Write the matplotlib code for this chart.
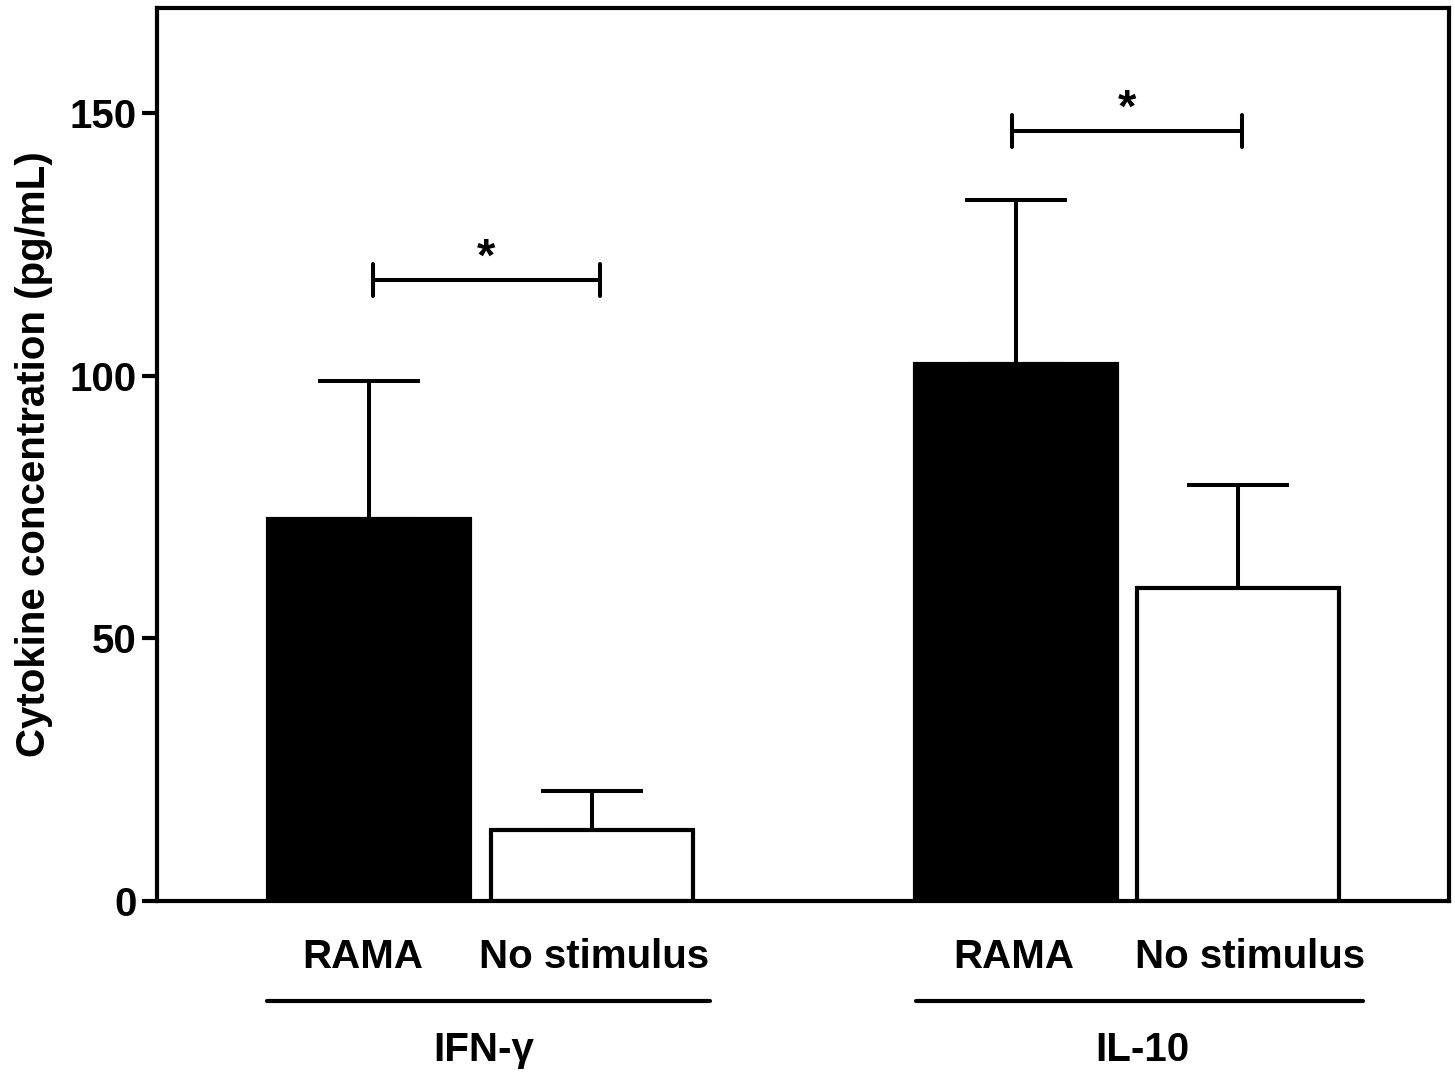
import numpy as np
import matplotlib.pyplot as plt
import matplotlib as mpl

mpl.rcParams['font.family'] = ['Liberation Sans', 'DejaVu Sans']
mpl.rcParams['font.weight'] = 'bold'

# data
groups = ['IFN-γ', 'IL-10']
conditions = ['RAMA', 'No stimulus']
means = [72.7, 13.5, 102.2, 59.6]
err_top = [99.0, 20.9, 133.4, 79.2]
bar_colors = ['black', 'white', 'black', 'white']
sig_levels = [118.2, 146.6]
sig_labels = ['*', '*']
yticks = [0, 50, 100, 150]

# layout (data units, bar width = 1)
pos = np.array([1.04, 2.13, 4.21, 5.30])
sig_x = [(1.06, 2.17), (4.19, 5.32)]
line_x = [(0.54, 2.71), (3.72, 5.91)]
cond_x = [1.01, 2.14, 4.20, 5.36]
group_x = [1.60, 4.83]

fig = plt.figure(figsize=(14.55, 10.78), dpi=100)
ax = fig.add_axes([157/1455, 177/1078, 1292/1455, 893/1078])

ax.bar(pos, means, width=0.99, color=bar_colors, edgecolor='black',
       linewidth=3, zorder=2)
yerr = np.array([np.zeros(4), np.array(err_top) - np.array(means)])
ax.errorbar(pos, means, yerr=yerr, fmt='none', ecolor='black',
            elinewidth=2.9, capsize=37, capthick=2.9, zorder=1)

# significance brackets
for (x0, x1), y, s in zip(sig_x, sig_levels, sig_labels):
    ax.plot([x0, x1], [y, y], color='black', lw=2.9, solid_capstyle='round')
    for xx in (x0, x1):
        ax.plot([xx, xx], [y - 3, y + 3], color='black', lw=2.9,
                solid_capstyle='round')
    ax.text((x0 + x1) / 2, y + 4, s, ha='center', va='center',
            fontsize=34, fontweight='bold')

ax.set_xlim(0, 6.333)
ax.set_ylim(0, 170)
ax.set_yticks(yticks)
ax.set_xticks([])
ax.tick_params(axis='y', length=11, width=3, labelsize=29, pad=3.5)
for lbl in ax.get_yticklabels():
    lbl.set_fontweight('bold')
for sp in ax.spines.values():
    sp.set_linewidth(3)

ax.set_ylabel('Cytokine concentration (pg/mL)', fontsize=29,
              fontweight='bold', labelpad=12)

# category labels below the axis
tr = ax.get_xaxis_transform()
for i, x in enumerate(cond_x):
    ax.text(x, -0.063, conditions[i % 2], transform=tr, ha='center',
            va='center', fontsize=29, fontweight='bold')
for (x0, x1), gx, g in zip(line_x, group_x, groups):
    ax.plot([x0, x1], [-0.112, -0.112], transform=tr, color='black',
            lw=3, clip_on=False, solid_capstyle='round')
    ax.text(gx, -0.167, g, transform=tr, ha='center', va='center',
            fontsize=29, fontweight='bold')

plt.savefig('out.png', dpi=100)
